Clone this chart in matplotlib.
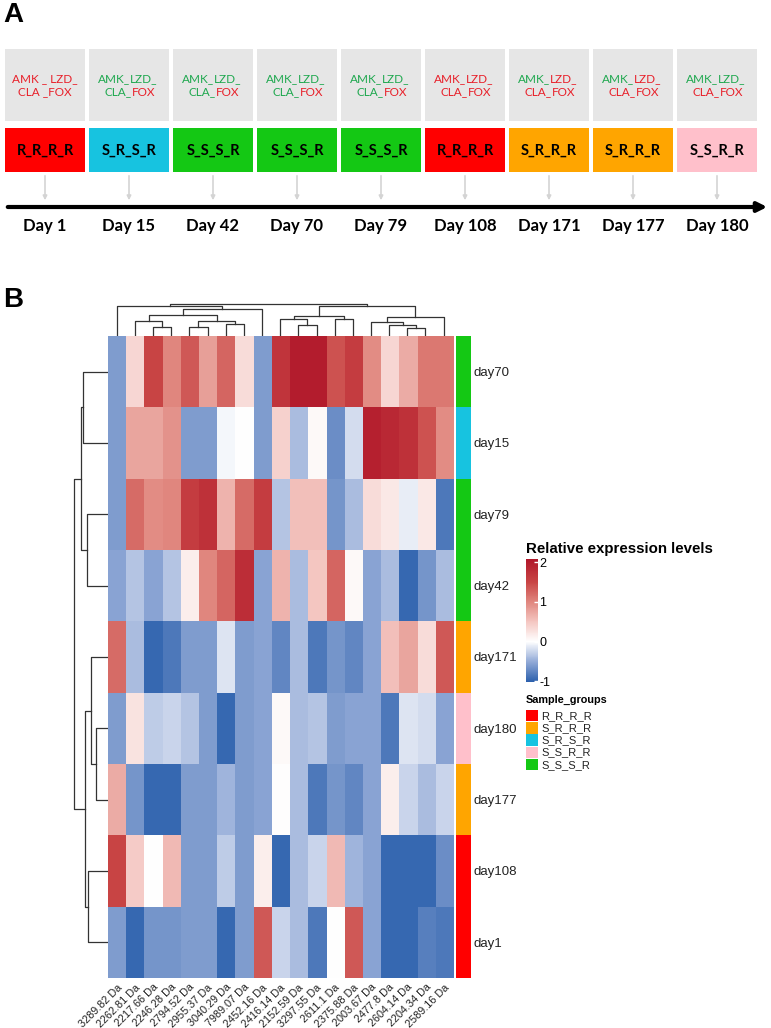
import matplotlib.pyplot as plt
import numpy as np
from matplotlib.colors import LinearSegmentedColormap, ListedColormap, Normalize
from matplotlib.patches import Rectangle

plt.rcParams["axes.unicode_minus"] = False

W, H = 771, 1028

# ---- panel A data ----
days = ["Day 1", "Day 15", "Day 42", "Day 70", "Day 79", "Day 108", "Day 171", "Day 177", "Day 180"]
profiles = ["R_R_R_R", "S_R_S_R", "S_S_S_R", "S_S_S_R", "S_S_S_R", "R_R_R_R", "S_R_R_R", "S_R_R_R", "S_S_R_R"]
# colour of AMK_, LZD_, CLA_, FOX pieces in each grey box (r = resistant, g = susceptible)
drug_marks = ["rrrr", "gggr", "gggr", "gggr", "gggr", "rrrr", "grrr", "grrr", "ggrr"]

group_colors = {"R_R_R_R": "#ff0000", "S_R_R_R": "#ffa500", "S_R_S_R": "#17c3e0",
                "S_S_R_R": "#ffc0cb", "S_S_S_R": "#14c814"}

# ---- panel B data ----
peptides = ["3289.82 Da", "2262.81 Da", "2217.66 Da", "2246.28 Da", "2794.52 Da", "2955.37 Da",
            "3040.29 Da", "7989.07 Da", "2452.16 Da", "2416.14 Da", "2152.59 Da", "3297.55 Da",
            "2611.1 Da", "2375.88 Da", "2003.67 Da", "2477.8 Da", "2604.14 Da", "2204.34 Da", "2589.16 Da"]
samples = ["day70", "day15", "day79", "day42", "day171", "day180", "day177", "day108", "day1"]
sample_groups = ["S_S_S_R", "S_R_S_R", "S_S_S_R", "S_S_S_R", "S_R_R_R", "S_S_R_R", "S_R_R_R", "R_R_R_R", "R_R_R_R"]

day70 = [-0.6, 0.35, 1.5, 1.0, 1.35, 0.8, 1.25, 0.3, -0.6, 1.7, 2.0, 2.0, 1.4, 1.6, 0.95, 0.35, 0.7, 1.1, 1.1]
day15 = [-0.6, 0.75, 0.75, 0.9, -0.6, -0.6, -0.05, 0.0, -0.6, 0.4, -0.4, 0.05, -0.7, -0.2, 1.95, 1.85, 1.75, 1.4, 0.95]
day79 = [-0.6, 1.2, 0.95, 1.0, 1.6, 1.75, 0.65, 1.2, 1.6, -0.35, 0.55, 0.55, -0.65, -0.4, 0.3, 0.2, -0.1, 0.2, -0.85]
day42 = [-0.55, -0.35, -0.55, -0.35, 0.15, 1.0, 1.25, 1.8, -0.55, 0.65, -0.4, 0.5, 1.25, 0.05, -0.55, -0.4, -0.95, -0.65, -0.4]
day171 = [1.2, -0.4, -0.95, -0.85, -0.6, -0.6, -0.15, -0.6, -0.55, -0.75, -0.4, -0.85, -0.65, -0.75, -0.55, 0.55, 0.75, 0.3, 1.35]
day180 = [-0.6, 0.25, -0.3, -0.25, -0.35, -0.6, -0.95, -0.6, -0.55, 0.05, -0.4, -0.35, -0.6, -0.55, -0.55, -0.85, -0.15, -0.2, -0.55]
day177 = [0.7, -0.65, -0.95, -0.95, -0.6, -0.6, -0.45, -0.6, -0.55, 0.02, -0.4, -0.85, -0.65, -0.75, -0.55, 0.15, -0.25, -0.4, -0.25]
day108 = [1.5, 0.45, 0.0, 0.6, -0.6, -0.6, -0.3, -0.6, 0.15, -0.95, -0.4, -0.25, 0.6, -0.45, -0.55, -0.95, -0.95, -0.95, -0.7]
day1 = [-0.6, -0.95, -0.65, -0.65, -0.6, -0.6, -0.95, -0.6, 1.35, -0.25, -0.4, -0.85, 0.0, 1.35, -0.55, -0.95, -0.95, -0.8, -0.85]
expr = np.array([day70, day15, day79, day42, day171, day180, day177, day108, day1])

# merges (a, b, height) in scipy-like order; new nodes numbered from n upward
col_links = [(2, 3, 7.7), (4, 5, 7.7), (6, 7, 11), (1, 19, 13.3), (20, 21, 13.3), (22, 23, 20),
             (24, 8, 25.7), (0, 25, 29), (10, 11, 9.3), (9, 27, 15.7), (12, 13, 15.7), (28, 29, 19),
             (16, 17, 6.3), (15, 31, 9.3), (14, 32, 12.3), (33, 18, 17.3), (30, 34, 28.3), (26, 35, 31)]
row_links = [(0, 1, 23.4), (2, 3, 20), (9, 10, 26), (5, 6, 11.7), (4, 12, 16), (7, 8, 18.7),
             (13, 14, 22), (11, 15, 32)]

fig = plt.figure(figsize=(W / 100, H / 100), dpi=100)


def px_axes(x0, y0, x1, y1):
    return fig.add_axes([x0 / W, 1 - y1 / H, (x1 - x0) / W, (y1 - y0) / H])


canvas = px_axes(0, 0, W, H)
canvas.set_xlim(0, W)
canvas.set_ylim(H, 0)
canvas.axis("off")

# ---- panel A ----
canvas.text(3, 15, "A", fontsize=20, fontweight="bold", family="Liberation Sans", va="center")
txt_col = {"r": "#e8202a", "g": "#1fa84f"}
fs_small = 8.5
for i, (day, prof, marks) in enumerate(zip(days, profiles, drug_marks)):
    x0 = 5 + i * 84
    cx = x0 + 40
    canvas.add_patch(Rectangle((x0, 49), 80, 72, color="#e6e6e6", lw=0))
    canvas.add_patch(Rectangle((x0, 128), 80, 44, color=group_colors[prof], lw=0))
    if i == 0:
        canvas.text(cx, 79, "AMK _ LZD_", color=txt_col["r"], fontsize=fs_small, ha="center", va="center", family="Lato")
        canvas.text(cx, 92, "CLA _FOX", color=txt_col["r"], fontsize=fs_small, ha="center", va="center", family="Lato")
    else:
        canvas.text(cx + 1, 79, "AMK_", color=txt_col[marks[0]], fontsize=fs_small, ha="right", va="center", family="Lato")
        canvas.text(cx + 1, 79, "LZD_", color=txt_col[marks[1]], fontsize=fs_small, ha="left", va="center", family="Lato")
        canvas.text(cx + 3, 92, "CLA_", color=txt_col[marks[2]], fontsize=fs_small, ha="right", va="center", family="Lato")
        canvas.text(cx + 3, 92, "FOX", color=txt_col[marks[3]], fontsize=fs_small, ha="left", va="center", family="Lato")
    canvas.text(cx, 151, prof, fontsize=10.5, fontweight="bold", ha="center", va="center", family="Lato")
    canvas.annotate("", xy=(cx, 203), xytext=(cx, 173),
                    arrowprops=dict(arrowstyle="-|>", color="#d4d4d4", lw=1.2, mutation_scale=6))
    canvas.text(cx, 226, day, fontsize=12, fontweight="bold", ha="center", va="center", family="Lato")
canvas.annotate("", xy=(770, 207), xytext=(5, 207),
                arrowprops=dict(arrowstyle="-|>", color="black", lw=3, mutation_scale=14))

# ---- panel B ----
canvas.text(3, 300, "B", fontsize=20, fontweight="bold", family="Liberation Sans", va="center")

hx0, hx1, hy0, hy1 = 107.7, 452.7, 336, 978
nr, nc = expr.shape
vmin, vmax = -1.02, 2.08


def frac(v):
    return (v - vmin) / (vmax - vmin)


cmap = LinearSegmentedColormap.from_list(
    "expr", [(0, "#2a5fac"), (frac(-0.5), "#95acd8"), (frac(0), "#ffffff"),
             (frac(0.5), "#f4c6c1"), (frac(1.0), "#e0867e"), (frac(1.5), "#c94545"), (1, "#b0172a")])
norm = Normalize(vmin, vmax)

ax = px_axes(hx0, hy0, hx1, hy1)
im = ax.imshow(expr, cmap=cmap, norm=norm, aspect="auto", interpolation="nearest")
ax.set_xticks(range(nc))
ax.set_xticklabels(peptides, rotation=45, ha="right", rotation_mode="anchor",
                   fontsize=7.8, family="Liberation Sans", color="#222222")
ax.set_yticks([])
ax.tick_params(axis="x", length=0, pad=3)
for s in ax.spines.values():
    s.set_visible(False)

# annotation bar
group_names = list(group_colors)
ann = px_axes(456, hy0, 471, hy1)
ann.imshow(np.array([[group_names.index(g)] for g in sample_groups]),
           cmap=ListedColormap([group_colors[g] for g in group_names]),
           vmin=-0.5, vmax=len(group_names) - 0.5, aspect="auto", interpolation="nearest")
ann.set_xticks([])
ann.yaxis.tick_right()
ann.set_yticks(range(nr))
ann.set_yticklabels(samples, fontsize=9.5, family="Liberation Sans", color="#222222")
ann.tick_params(axis="y", length=0, pad=2)
for s in ann.spines.values():
    s.set_visible(False)


def dendro(axd, links, n, side):
    pos = {i: float(i) for i in range(n)}
    hgt = {i: 0.0 for i in range(n)}
    for k, (a, b, h) in enumerate(links):
        xs = [pos[a], pos[a], pos[b], pos[b]]
        ys = [hgt[a], h, h, hgt[b]]
        if side == "top":
            axd.plot(xs, ys, color="#333333", lw=0.9)
        else:
            axd.plot(ys, xs, color="#333333", lw=0.9)
        pos[n + k] = (pos[a] + pos[b]) / 2
        hgt[n + k] = h
    axd.axis("off")


top = px_axes(hx0, 300, hx1, hy0)
dendro(top, col_links, nc, "top")
top.set_xlim(-0.5, nc - 0.5)
top.set_ylim(-1.5, 34.5)

left = px_axes(70, hy0, hx0, hy1)
dendro(left, row_links, nr, "left")
left.set_ylim(nr - 0.5, -0.5)
left.set_xlim(36.2, 0)

# colour legend
canvas.text(526, 549, "Relative expression levels", fontsize=10.8, fontweight="bold",
            family="Liberation Sans", va="center")
cax = px_axes(526, 559, 538, 682)
cb = fig.colorbar(im, cax=cax, ticks=[-1, 0, 1, 2])
cb.outline.set_visible(False)
cax.tick_params(direction="in", color="white", length=3, width=1, labelsize=9, pad=1)
for t in cax.get_yticklabels():
    t.set_family("Liberation Sans")

# group legend
canvas.text(526, 700, "Sample_groups", fontsize=7.8, fontweight="bold", family="Liberation Sans", va="center")
for i, g in enumerate(group_names):
    y = 710 + i * 12.2
    canvas.add_patch(Rectangle((526, y), 12, 11.4, color=group_colors[g], lw=0))
    canvas.text(541, y + 6, g, fontsize=8, family="Liberation Sans", va="center", color="#222222")

fig.savefig("out.png", dpi=100)
